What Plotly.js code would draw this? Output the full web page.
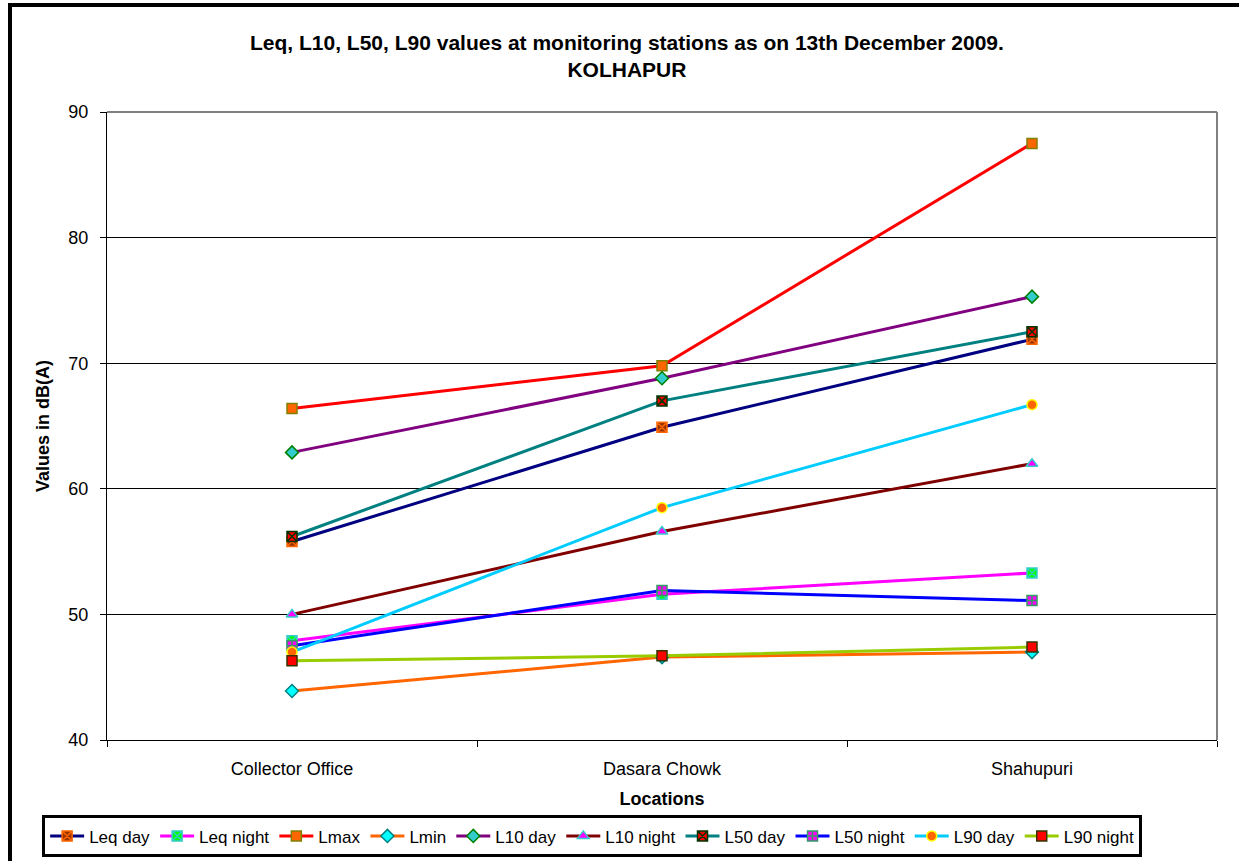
<!DOCTYPE html>
<html>
<head>
<meta charset="utf-8">
<script src="https://cdn.plot.ly/plotly-3.0.1.min.js"></script>
<style>
  html, body { margin: 0; padding: 0; background: #ffffff; overflow: hidden; }
  #chart { width: 1239px; height: 861px; }
  #frame { position: absolute; left: 8px; top: 3px; width: 1300px; height: 855px;
           border-top: 4px solid #000; border-left: 4px solid #000; border-bottom: 1px solid #999;
           pointer-events: none; }
</style>
</head>
<body>
<div id="chart"></div>
<div id="frame"></div>
<script>
const categories = ['Collector Office', 'Dasara Chowk', 'Shahupuri'];
const seriesNames = ['Leq day', 'Leq night', 'Lmax', 'Lmin', 'L10 day', 'L10 night', 'L50 day', 'L50 night', 'L90 day', 'L90 night'];
const leqDay   = [55.8, 64.9, 71.9];
const leqNight = [47.9, 51.6, 53.3];
const lmax     = [66.4, 69.8, 87.5];
const lmin     = [43.9, 46.6, 47.0];
const l10Day   = [62.9, 68.8, 75.3];
const l10Night = [50.0, 56.6, 62.0];
const l50Day   = [56.2, 67.0, 72.5];
const l50Night = [47.5, 51.9, 51.1];
const l90Day   = [47.0, 58.5, 66.7];
const l90Night = [46.3, 46.7, 47.4];
const seriesValues = [leqDay, leqNight, lmax, lmin, l10Day, l10Night, l50Day, l50Night, l90Day, l90Night];

const styles = [
  {line: '#000080', sym: 'square-x',    fill: '#993300', edge: '#FF6600'},
  {line: '#FF00FF', sym: 'square-x',    fill: '#00FF00', edge: '#33CCCC'},
  {line: '#FF0000', sym: 'square',      fill: '#FF6600', edge: '#808000'},
  {line: '#FF6600', sym: 'diamond',     fill: '#00FFFF', edge: '#008080'},
  {line: '#800080', sym: 'diamond',     fill: '#33CCCC', edge: '#008000'},
  {line: '#800000', sym: 'triangle-up', fill: '#FF00FF', edge: '#33CCCC'},
  {line: '#008080', sym: 'square-x',    fill: '#FF0000', edge: '#003300'},
  {line: '#0000FF', sym: 'square-cross',fill: '#FF00FF', edge: '#339966'},
  {line: '#00CCFF', sym: 'circle',      fill: '#FF6600', edge: '#FFFF00'},
  {line: '#99CC00', sym: 'square',      fill: '#FF0000', edge: '#333300'}
];

const font = 'Liberation Sans, Arial, sans-serif';

const traces = seriesNames.map((name, i) => ({
  type: 'scatter',
  mode: 'lines+markers',
  name: name,
  x: categories,
  y: seriesValues[i],
  line: {color: styles[i].line, width: 3},
  marker: {symbol: styles[i].sym, size: 10, color: styles[i].fill,
           line: {color: styles[i].edge, width: 1.5}}
}));

const layout = {
  width: 1239, height: 861,
  paper_bgcolor: '#ffffff', plot_bgcolor: '#ffffff',
  margin: {l: 107, r: 22, t: 112, b: 121},
  font: {family: font, size: 18, color: '#000'},
  title: {
    text: 'Leq, L10, L50, L90 values at monitoring stations as on 13th December 2009.<br>KOLHAPUR',
    font: {family: font, size: 21, weight: 'bold', color: '#000'},
    x: 0.506, xanchor: 'center', xref: 'container',
    y: 0.942, yanchor: 'top', yref: 'container'
  },
  xaxis: {
    type: 'category',
    range: [-0.5, 2.5],
    showline: true, linecolor: '#000', linewidth: 1,
    ticks: 'outside', ticklen: 6, tickcolor: '#000', tickson: 'boundaries',
    showgrid: false, zeroline: false,
    tickfont: {family: font, size: 18},
    ticklabelstandoff: 12,
    title: {text: 'Locations', font: {family: font, size: 18, weight: 'bold'}, standoff: 14}
  },
  yaxis: {
    range: [40, 90], dtick: 10,
    showline: true, linecolor: '#000', linewidth: 1,
    ticks: 'outside', ticklen: 6, tickcolor: '#000',
    showgrid: true, gridcolor: '#000', gridwidth: 1,
    zeroline: false,
    tickfont: {family: font, size: 18},
    ticklabelstandoff: 8,
    title: {text: 'Values in dB(A)', font: {family: font, size: 18, weight: 'bold'}, standoff: 14}
  },
  showlegend: true,
  legend: {
    orientation: 'h',
    x: 0.034, xanchor: 'left', xref: 'container',
    y: 0.053, yanchor: 'top', yref: 'container',
    bordercolor: '#000', borderwidth: 3,
    font: {family: font, size: 17},
    itemwidth: 34,
    tracegroupgap: 0
  },
  shapes: [
    {type: 'line', xref: 'paper', yref: 'paper', x0: 0, x1: 1, y0: 1, y1: 1, line: {color: '#808080', width: 2}},
    {type: 'line', xref: 'paper', yref: 'paper', x0: 1, x1: 1, y0: 0, y1: 1, line: {color: '#808080', width: 2}}
  ]
};

Plotly.newPlot('chart', traces, layout, {displayModeBar: false, staticPlot: true});
</script>
</body>
</html>
